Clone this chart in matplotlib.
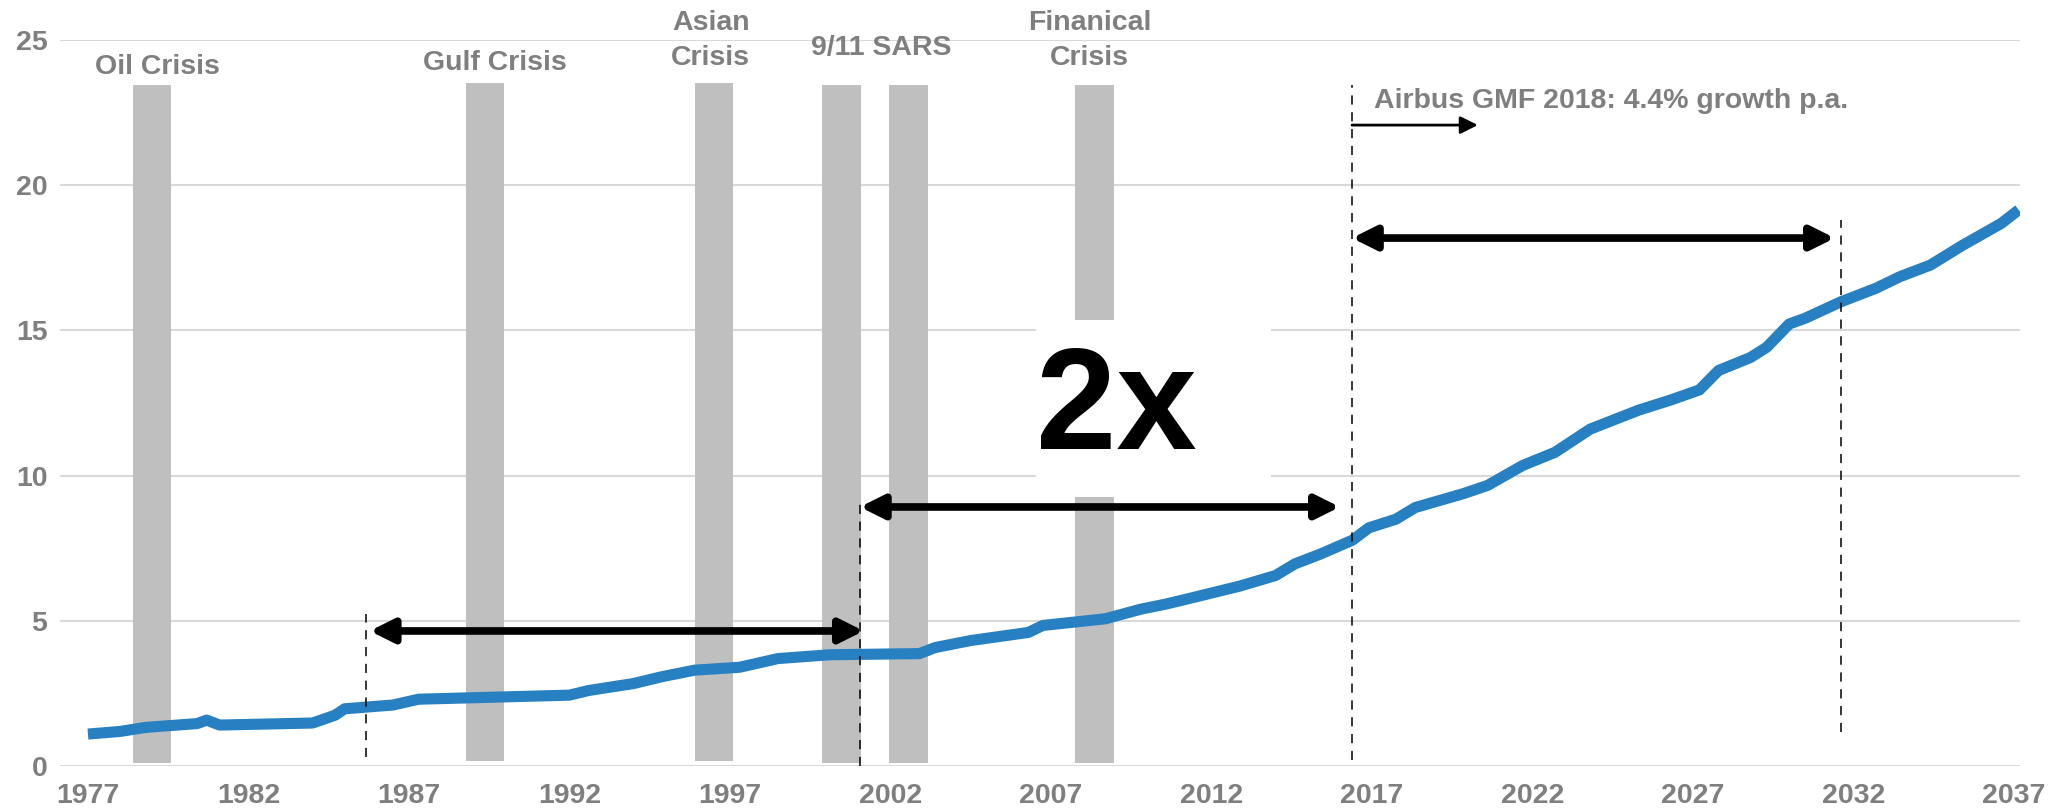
import matplotlib
matplotlib.use("Agg")
import matplotlib.pyplot as plt
from matplotlib.patches import Rectangle

plt.rcParams['font.family'] = ['Liberation Sans', 'DejaVu Sans']
plt.rcParams['font.weight'] = 'bold'

# traffic index
years = [1977.0, 1978.0, 1978.8, 1980.4, 1980.7, 1981.1, 1984.0, 1984.7, 1985.0,
         1986.5, 1987.3, 1992.0, 1992.6, 1994.0, 1994.9, 1995.9, 1997.3, 1998.5,
         2000.1, 2002.9, 2003.4, 2004.5, 2006.3, 2006.75, 2008.7, 2009.8, 2010.6,
         2011.5, 2012.9, 2014.0, 2014.6, 2015.4, 2016.4, 2016.9, 2017.75, 2018.35,
         2019.85, 2020.6, 2021.7, 2022.7, 2023.8, 2025.3, 2026.3, 2027.2, 2027.8,
         2028.8, 2029.3, 2030.0, 2030.5, 2031.6, 2032.7, 2033.45, 2034.4, 2035.4,
         2036.6, 2037.15]
traffic = [1.10, 1.19, 1.33, 1.46, 1.58, 1.41, 1.48, 1.75, 1.97,
           2.10, 2.30, 2.44, 2.60, 2.84, 3.08, 3.30, 3.40, 3.70,
           3.83, 3.87, 4.08, 4.32, 4.60, 4.84, 5.07, 5.40, 5.58,
           5.82, 6.20, 6.56, 6.96, 7.30, 7.78, 8.20, 8.50, 8.90,
           9.38, 9.66, 10.35, 10.80, 11.60, 12.25, 12.60, 12.95, 13.62,
           14.07, 14.42, 15.22, 15.42, 15.98, 16.45, 16.85, 17.25, 17.93,
           18.68, 19.15]

# crisis periods (centre year) and label lines
crisis_years = [1979.0, 1989.37, 1996.5, 2000.47, 2002.56, 2008.35]
crisis_bottom = [0.10, 0.17, 0.17, 0.10, 0.10, 0.10]
crisis_top = [23.45, 23.52, 23.52, 23.45, 23.45, 23.45]
crisis_width = 1.2
labels = [("Oil Crisis",), ("Gulf Crisis",), ("Asian", "Crisis"),
          ("9/11 SARS",), ("Finanical", "Crisis")]
label_x = [1979.15, 1989.68, 1996.4, 2001.7, 2008.2]
label_base = [23.83, 23.97, 24.14, 24.48, 24.14]

# doubling periods
dash_x = [1985.66, 2001.05, 2016.38, 2031.61]
dash_lo = [0.3, 0.0, 0.2, 1.17]
dash_hi = [5.23, 9.05, 23.45, 18.8]
span_start = [1985.78, 2001.05, 2016.38]
span_end = [2001.17, 2016.0, 2031.42]
span_y = [4.65, 8.92, 18.18]

xticks = list(range(1977, 2038, 5))
yticks = [0, 5, 10, 15, 20, 25]

grey = '#7f7f7f'

fig = plt.figure(figsize=(20.49, 8.08), dpi=100)
ax = fig.add_axes([60 / 2049, 42 / 808, 1960 / 2049, 726 / 808])
ax.set_xlim(1976.13, 2037.19)
ax.set_ylim(0, 25)

for s in ax.spines.values():
    s.set_visible(False)
ax.set_xticks(xticks)
ax.set_yticks(yticks)
ax.tick_params(axis='both', length=0, labelsize=20.5, labelcolor=grey)
ax.tick_params(axis='x', pad=12)
ax.tick_params(axis='y', pad=9)
ax.yaxis.grid(True, color='#d9d9d9', lw=1.5, zorder=0)
ax.set_axisbelow(True)

for cx, lo, hi in zip(crisis_years, crisis_bottom, crisis_top):
    ax.bar(cx, hi - lo, bottom=lo, width=crisis_width, color='#bfbfbf', zorder=1)

for lines, lx, lb in zip(labels, label_x, label_base):
    for i, t in enumerate(reversed(lines)):
        ax.text(lx, lb + i * 1.2, t, ha='center', va='baseline', fontsize=20.5,
                color=grey, fontweight='bold', clip_on=False)

# white panel behind the "2x"
ax.add_patch(Rectangle((2006.53, 9.26), 2013.85 - 2006.53, 15.36 - 9.26,
                       facecolor='white', edgecolor='none', zorder=2))
ax.text(2009.05, 12.2, "2x", ha='center', va='center', fontsize=104,
        fontweight='bold', color='black', zorder=3)

ax.plot(years, traffic, color='#2680c2', lw=8, solid_capstyle='butt', zorder=4)

for dx, lo, hi in zip(dash_x, dash_lo, dash_hi):
    ax.plot([dx, dx], [lo, hi], color='black', lw=1.1, dashes=(6, 5), zorder=5)

for x0, x1, y in zip(span_start, span_end, span_y):
    ax.annotate('', xy=(x1, y), xytext=(x0, y),
                arrowprops=dict(arrowstyle='<|-|>,head_length=0.7,head_width=0.35',
                                lw=5.5, color='black', shrinkA=0, shrinkB=0,
                                mutation_scale=20), zorder=6)

ax.annotate('', xy=(2020.3, 22.07), xytext=(2016.38, 22.07),
            arrowprops=dict(arrowstyle='-|>,head_length=0.7,head_width=0.35',
                            lw=2, color='black', shrinkA=0, shrinkB=0,
                            mutation_scale=15), zorder=6)
ax.text(2017.06, 22.66, "Airbus GMF 2018: 4.4% growth p.a.", ha='left',
        va='baseline', fontsize=20.5, color=grey, fontweight='bold')

fig.savefig("out.png", dpi=100)
